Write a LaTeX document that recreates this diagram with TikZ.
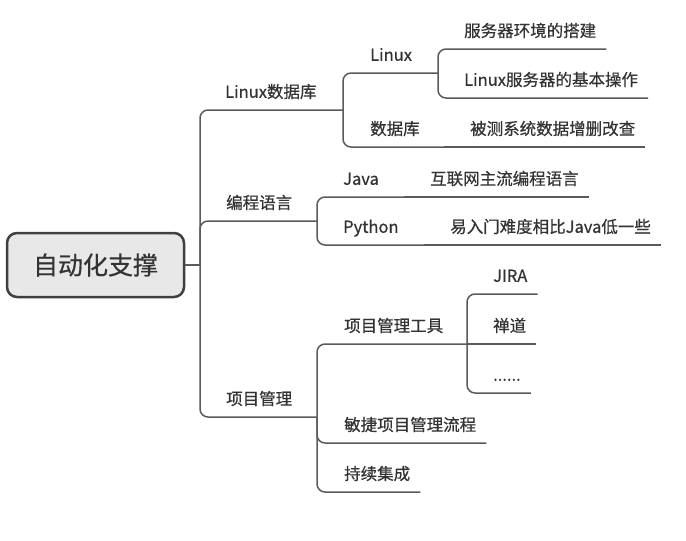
\documentclass[tikz,border=0pt]{standalone}
\usepackage{fontspec}
\setmainfont{Noto Sans CJK SC}[FakeBold=0.6]
\definecolor{linegray}{HTML}{5A5A5A}
\definecolor{rootedge}{HTML}{404040}
\definecolor{boxgray}{HTML}{E8E8E8}
\definecolor{textgray}{HTML}{333333}
\tikzstyle{rootbox} = [draw=rootedge, fill=boxgray, line width=2.5pt,
    rectangle, rounded corners=10pt, minimum width=177pt, minimum height=64pt,
    font=\fontsize{25}{30}\selectfont, text=textgray]
\tikzstyle{topic} = [anchor=south west, inner xsep=10pt, inner ysep=8pt,
    text height=12pt, text depth=4pt, font=\fontsize{16.5}{20}\selectfont, text=textgray]
\tikzstyle{branch} = [draw=linegray, line width=1.5pt, rounded corners=8pt]

\begin{document}
\begin{tikzpicture}[x=1pt, y=-1pt]
    \useasboundingbox (0,0) rectangle (686,541);
    \node [rootbox] (root) at (95.5,265) {自动化支撑};
    \coordinate (froot) at (200,265);
    % first level
    \node [topic] (linuxdb) at (215,110) {Linux数据库};
    \node [topic] (lang) at (216,221) {编程语言};
    \node [topic] (pm) at (216,417) {项目管理};
    \coordinate (flinuxdb) at (343,110);
    \coordinate (flang) at (317,221);
    \coordinate (fpm) at (317,417);
    \draw [branch] (root.east) -- (froot);
    \draw [branch] (froot) |- (flinuxdb);
    \draw [branch] (froot) |- (flang);
    \draw [branch] (froot) |- (fpm);
    % Linux数据库
    \node [topic] (linux) at (360,73) {Linux};
    \node [topic] (db) at (360,147) {数据库};
    \coordinate (flinux) at (438,73);
    \coordinate (fdb) at (444,147);
    \draw [branch] (flinuxdb) |- (flinux);
    \draw [branch] (flinuxdb) |- (fdb);
    \node [topic] (setup) at (454,49) {服务器环境的搭建};
    \node [topic] (basicop) at (454,98) {Linux服务器的基本操作};
    \draw [branch] (flinux) |- (setup.south east);
    \draw [branch] (flinux) |- (basicop.south east);
    \node [topic] (crud) at (460,147) {被测系统数据增删改查};
    \draw [branch] (fdb) -- (crud.south east);
    % 编程语言
    \node [topic] (java) at (333,197) {Java};
    \node [topic] (python) at (333,245) {Python};
    \coordinate (fjava) at (404,197);
    \coordinate (fpython) at (424,245);
    \draw [branch] (flang) |- (fjava);
    \draw [branch] (flang) |- (fpython);
    \node [topic] (web) at (420,197) {互联网主流编程语言};
    \node [topic] (easy) at (440,245) {易入门难度相比Java低一些};
    \draw [branch] (fjava) -- (web.south east);
    \draw [branch] (fpython) -- (easy.south east);
    % 项目管理
    \node [topic] (tools) at (334,344) {项目管理工具};
    \node [topic] (agile) at (334,443) {敏捷项目管理流程};
    \node [topic] (ci) at (334,492) {持续集成};
    \coordinate (ftools) at (467,344);
    \draw [branch] (fpm) |- (ftools);
    \draw [branch] (fpm) |- (agile.south east);
    \draw [branch] (fpm) |- (ci.south east);
    \node [topic] (jira) at (483,294) {JIRA};
    \node [topic] (zentao) at (483,344) {禅道};
    \node [topic] (more) at (483,393) {......};
    \draw [branch] (ftools) |- (jira.south east);
    \draw [branch] (ftools) -- (zentao.south east);
    \draw [branch] (ftools) |- (more.south east);
\end{tikzpicture}
\end{document}
